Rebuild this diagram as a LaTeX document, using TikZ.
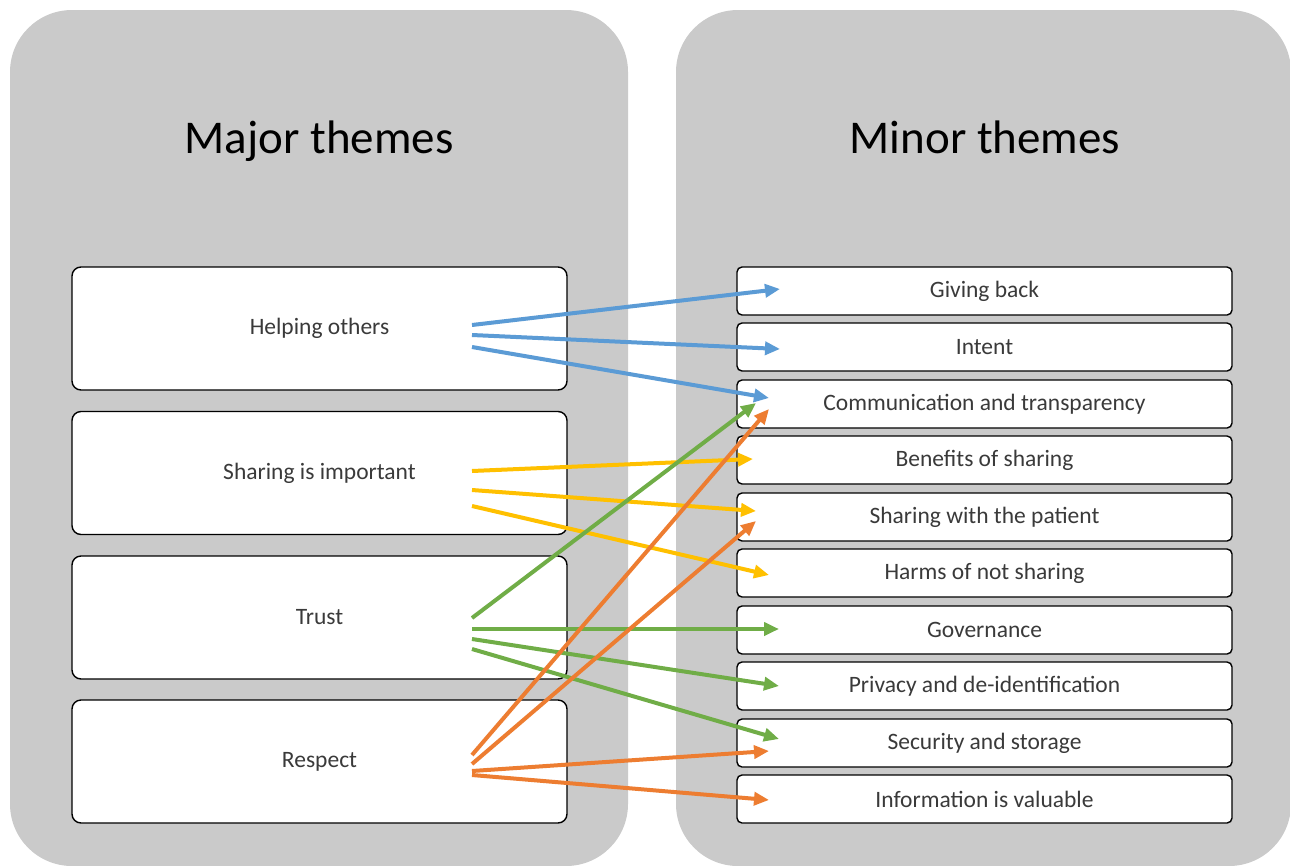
\documentclass[tikz,border=0pt]{standalone}
\usepackage{fontspec}
\setmainfont{Carlito}
\usetikzlibrary{arrows.meta}
\definecolor{panelgray}{HTML}{CACACA}
\definecolor{txtgray}{HTML}{3A3A3A}
\definecolor{cblue}{HTML}{5B9BD5}
\definecolor{cyellow}{HTML}{FFC000}
\definecolor{cgreen}{HTML}{70AD47}
\definecolor{corange}{HTML}{ED7D31}
\tikzset{
  panel/.style={fill=panelgray, draw=none, rounded corners=62pt},
  majorbox/.style={draw=black, fill=white, line width=1.4pt, rounded corners=9pt,
    minimum width=495pt, minimum height=123pt, inner sep=0pt, text=txtgray, font=\fontsize{23.5}{28}\selectfont},
  minorbox/.style={draw=black, fill=white, line width=1.4pt, rounded corners=5pt,
    minimum width=495pt, minimum height=48pt, inner sep=0pt, text=txtgray, font=\fontsize{23.5}{28}\selectfont},
  title/.style={font=\fontsize{47}{56}\selectfont, text=black, anchor=base},
  conn/.style={line width=4pt, -{Triangle[length=15pt,width=13pt]}}
}
\begin{document}
\begin{tikzpicture}[x=1pt,y=-1pt]
\useasboundingbox (0,0) rectangle (1290,865);
\fill[panel] (10,10) rectangle (628,866);
\fill[panel] (676,10) rectangle (1291,866);
\node[title] (tmaj) at (319,153) {Major themes};
\node[title] (tmin) at (985,153) {Minor themes};
% major boxes
\node[majorbox] (help) at (319.5,328.5) {Helping others};
\node[majorbox] (share) at (319.5,473) {Sharing is important};
\node[majorbox] (trust) at (319.5,617.5) {Trust};
\node[majorbox] (resp) at (319.5,761.5) {Respect};
% minor boxes
\node[minorbox] (give) at (984.5,291) {Giving back};
\node[minorbox] (intent) at (984.5,347) {Intent};
\node[minorbox] (comm) at (984.5,404) {Communication and transparency};
\node[minorbox] (ben) at (984.5,460) {Benefits of sharing};
\node[minorbox] (swp) at (984.5,517) {Sharing with the patient};
\node[minorbox] (harm) at (984.5,573) {Harms of not sharing};
\node[minorbox] (gov) at (984.5,630) {Governance};
\node[minorbox] (priv) at (984.5,686) {Privacy and de-identification};
\node[minorbox] (sec) at (984.5,743) {Security and storage};
\node[minorbox] (info) at (984.5,799) {Information is valuable};
% start points
\coordinate (h1) at (472,325);
\coordinate (h2) at (472,335);
\coordinate (h3) at (472,347);
\coordinate (s1) at (472,471);
\coordinate (s2) at (472,490);
\coordinate (s3) at (472,506);
\coordinate (t1) at (472,618);
\coordinate (t2) at (472,629);
\coordinate (t3) at (472,639);
\coordinate (t4) at (472,649);
\coordinate (r1) at (472,755);
\coordinate (r2) at (472,764);
\coordinate (r3) at (472,771);
\coordinate (r4) at (472,775);
% end points
\coordinate (eg) at (780,289);
\coordinate (ei) at (780,349);
\coordinate (ecb) at (769,398);
\coordinate (ecg) at (756,403);
\coordinate (eco) at (769,409);
\coordinate (eb) at (753,459);
\coordinate (esy) at (756,511);
\coordinate (eso) at (756,521);
\coordinate (eh) at (769,575);
\coordinate (egv) at (779,629);
\coordinate (ep) at (779,686);
\coordinate (esg) at (779,739);
\coordinate (eso2) at (769,751);
\coordinate (einf) at (769,800);
% blue
\draw[conn, cblue] (h1) -- (eg);
\draw[conn, cblue] (h2) -- (ei);
\draw[conn, cblue] (h3) -- (ecb);
% yellow
\draw[conn, cyellow] (s1) -- (eb);
\draw[conn, cyellow] (s2) -- (esy);
\draw[conn, cyellow] (s3) -- (eh);
% green
\draw[conn, cgreen] (t1) -- (ecg);
\draw[conn, cgreen] (t2) -- (egv);
\draw[conn, cgreen] (t3) -- (ep);
\draw[conn, cgreen] (t4) -- (esg);
% orange
\draw[conn, corange] (r1) -- (eco);
\draw[conn, corange] (r2) -- (eso);
\draw[conn, corange] (r3) -- (eso2);
\draw[conn, corange] (r4) -- (einf);
\end{tikzpicture}
\end{document}
